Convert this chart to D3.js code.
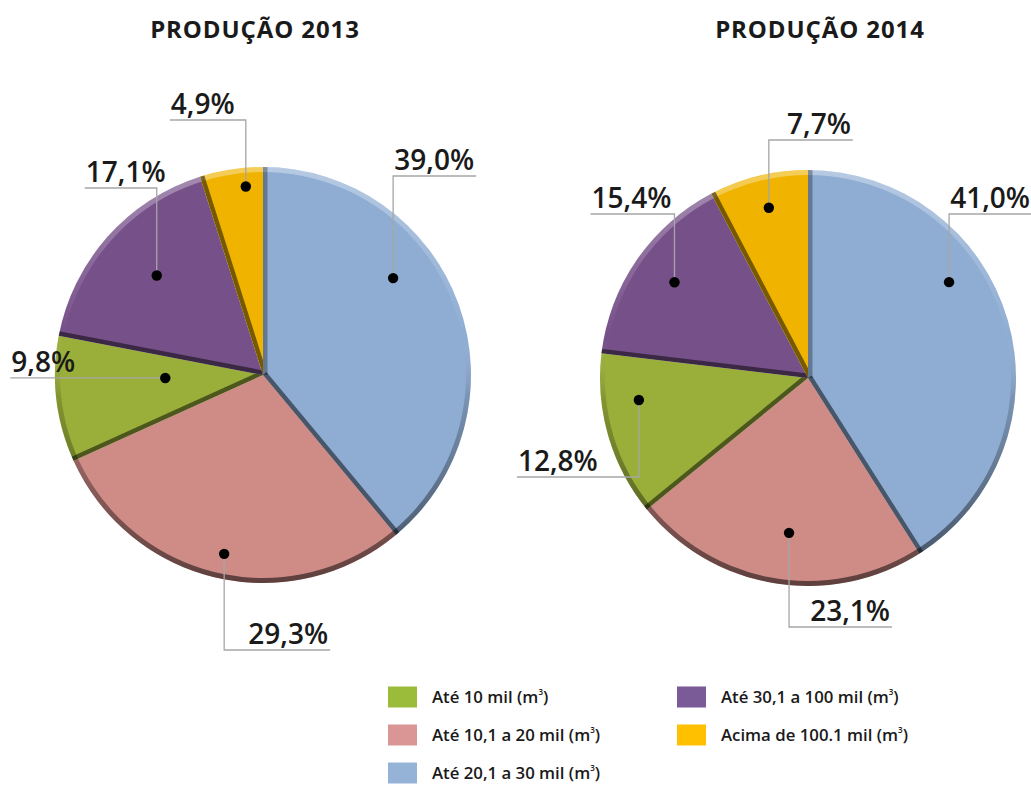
<!DOCTYPE html>
<html>
<head>
<meta charset="utf-8">
<script src="https://cdn.jsdelivr.net/npm/d3@7"></script>
<style>
  html, body { margin: 0; padding: 0; background: #fff; }
  svg { display: block; }
  text { font-family: "Open Sans", "Noto Sans", sans-serif; fill: #1a1a1a; }
</style>
</head>
<body>
<svg id="chart" width="1031" height="785"></svg>
<script>
// Slice order, clockwise from 12 o'clock
const categories = [
  "Até 20,1 a 30 mil (m³)",
  "Até 10,1 a 20 mil (m³)",
  "Até 10 mil (m³)",
  "Até 30,1 a 100 mil (m³)",
  "Acima de 100.1 mil (m³)"
];
const values2013 = [39.0, 29.3, 9.8, 17.1, 4.9];
const values2014 = [41.0, 23.1, 12.8, 15.4, 7.7];
const titles = ["PRODUÇÃO 2013", "PRODUÇÃO 2014"];

// Legend order (two columns)
const legendLeft = ["Até 10 mil (m³)", "Até 10,1 a 20 mil (m³)", "Até 20,1 a 30 mil (m³)"];
const legendRight = ["Até 30,1 a 100 mil (m³)", "Acima de 100.1 mil (m³)"];

const sliceColors = ["#8fadd3", "#cf8c87", "#9aaf3a", "#765089", "#efb300"];
const swatchColors = ["#95b3d7", "#d99694", "#9bbb3b", "#7b5a98", "#ffc000"];

const color = d3.scaleOrdinal().domain(categories).range(sliceColors);
const swatch = d3.scaleOrdinal().domain(categories).range(swatchColors);

// Label placement: angle nudge (deg), radius fraction, leader line y (relative to centre),
// side of the text and length of the horizontal leader.
const labelLayout2013 = [
  { da: -16.8, rf: 0.78, ly: -199, side: "right", len: 83 },
  { da: -0.7,  rf: 0.88, ly: 275,  side: "right", len: 106 },
  { da: 5.0,   rf: 0.47, ly: null, side: "left",  len: 155 },
  { da: 1.5,   rf: 0.70, ly: -187, side: "left",  len: 72 },
  { da: 3.6,   rf: 0.91, ly: -255, side: "left",  len: 76 }
];
const labelLayout2014 = [
  { da: -18.0, rf: 0.82, ly: -164, side: "right", len: 83 },
  { da: -2.2,  rf: 0.75, ly: 249,  side: "right", len: 103 },
  { da: 8.8,   rf: 0.82, ly: 99,   side: "left",  len: 122 },
  { da: 1.1,   rf: 0.79, ly: -164, side: "left",  len: 84 },
  { da: 0.9,   rf: 0.84, ly: -238, side: "right", len: 84 }
];

const svg = d3.select("#chart");
const defs = svg.append("defs");
const R = 208;

const pie = d3.pie().sort(null).value(d => d.value).startAngle(0).endAngle(2 * Math.PI);
const arc = d3.arc().innerRadius(0).outerRadius(R);
const rim = d3.arc().innerRadius(R - 5).outerRadius(R);

// which radial edges carry the darker bevel line
const darkStart = [true, false, true, true, true];
const darkEnd = [true, false, false, false, false];

const fmt = v => v.toFixed(1).replace(".", ",") + "%";

function drawPie(id, cx, cy, values, layout, title, titleX) {
  const g = svg.append("g").attr("transform", `translate(${cx},${cy})`);
  const data = pie(categories.map((c, i) => ({ cat: c, value: values[i] })));

  // rim shading: light at the top, dark at the bottom
  const grad = defs.append("linearGradient")
    .attr("id", `rim-${id}`)
    .attr("gradientUnits", "userSpaceOnUse")
    .attr("x1", 0).attr("y1", -R).attr("x2", 0).attr("y2", R);
  grad.append("stop").attr("offset", "0%").attr("stop-color", "#fff").attr("stop-opacity", 0.35);
  grad.append("stop").attr("offset", "40%").attr("stop-color", "#fff").attr("stop-opacity", 0);
  grad.append("stop").attr("offset", "55%").attr("stop-color", "#000").attr("stop-opacity", 0.15);
  grad.append("stop").attr("offset", "100%").attr("stop-color", "#000").attr("stop-opacity", 0.55);

  data.forEach((d, i) => {
    const clipId = `clip-${id}-${i}`;
    defs.append("clipPath").attr("id", clipId)
      .append("path").attr("d", arc(d)).attr("transform", `translate(${cx},${cy})`);

    g.append("path").attr("d", arc(d)).attr("fill", color(d.data.cat));

    const eg = svg.append("g").attr("clip-path", `url(#${clipId})`)
      .append("g").attr("transform", `translate(${cx},${cy})`);
    const edge = (a, op) => eg.append("line")
      .attr("x1", 0).attr("y1", 0)
      .attr("x2", Math.sin(a) * (R + 5)).attr("y2", -Math.cos(a) * (R + 5))
      .attr("stroke", "#000").attr("stroke-opacity", op).attr("stroke-width", 9);
    if (darkStart[i]) edge(d.startAngle, i === 0 ? 0.3 : 0.5);
    if (darkEnd[i]) edge(d.endAngle, 0.5);
  });

  g.append("path")
    .attr("d", rim({ startAngle: 0, endAngle: 2 * Math.PI }))
    .attr("fill", `url(#rim-${id})`);

  // leaders, dots and labels
  data.forEach((d, i) => {
    const L = layout[i];
    const a = (d.startAngle + d.endAngle) / 2 + L.da * Math.PI / 180;
    const px = Math.sin(a) * R * L.rf;
    const py = -Math.cos(a) * R * L.rf;
    const ly = L.ly === null ? py : L.ly;
    const x2 = L.side === "right" ? px + L.len : px - L.len;
    const path = d3.path();
    path.moveTo(px, py);
    path.lineTo(px, ly);
    path.lineTo(x2, ly);
    g.append("path").attr("d", path.toString())
      .attr("fill", "none").attr("stroke", "#a6a6a6").attr("stroke-width", 1.3);
    g.append("circle").attr("cx", px).attr("cy", py).attr("r", 5.2).attr("fill", "#000");
    g.append("text")
      .attr("x", L.side === "right" ? x2 - 2 : x2 + 1)
      .attr("y", ly - 6)
      .attr("text-anchor", L.side === "right" ? "end" : "start")
      .attr("font-size", 28)
      .attr("font-weight", 600)
      .text(fmt(d.data.value));
  });

  svg.append("text")
    .attr("x", titleX).attr("y", 38)
    .attr("text-anchor", "middle")
    .attr("font-size", 24).attr("font-weight", 700)
    .attr("letter-spacing", 0.9)
    .text(title);
}

drawPie("a", 263, 375, values2013, labelLayout2013, titles[0], 255);
drawPie("b", 808, 378, values2014, labelLayout2014, titles[1], 820);

// legend
const legend = svg.append("g");
const rowY = d3.scalePoint().domain([0, 1, 2]).range([697, 773]);
function legendCol(items, x) {
  items.forEach((c, i) => {
    const y = rowY(i);
    legend.append("rect").attr("x", x).attr("y", y - 10.5).attr("width", 29).attr("height", 21)
      .attr("fill", swatch(c));
    const parts = c.split("³");
    const t = legend.append("text").attr("x", x + 44).attr("y", y + 6)
      .attr("font-size", 16.8).attr("font-weight", 600);
    t.append("tspan").text(parts[0]);
    t.append("tspan").attr("font-size", 8).attr("dy", -8).text("3");
    t.append("tspan").attr("dy", 8).text(parts[1]);
  });
}
legendCol(legendLeft, 388);
legendCol(legendRight, 677);
</script>
</body>
</html>
